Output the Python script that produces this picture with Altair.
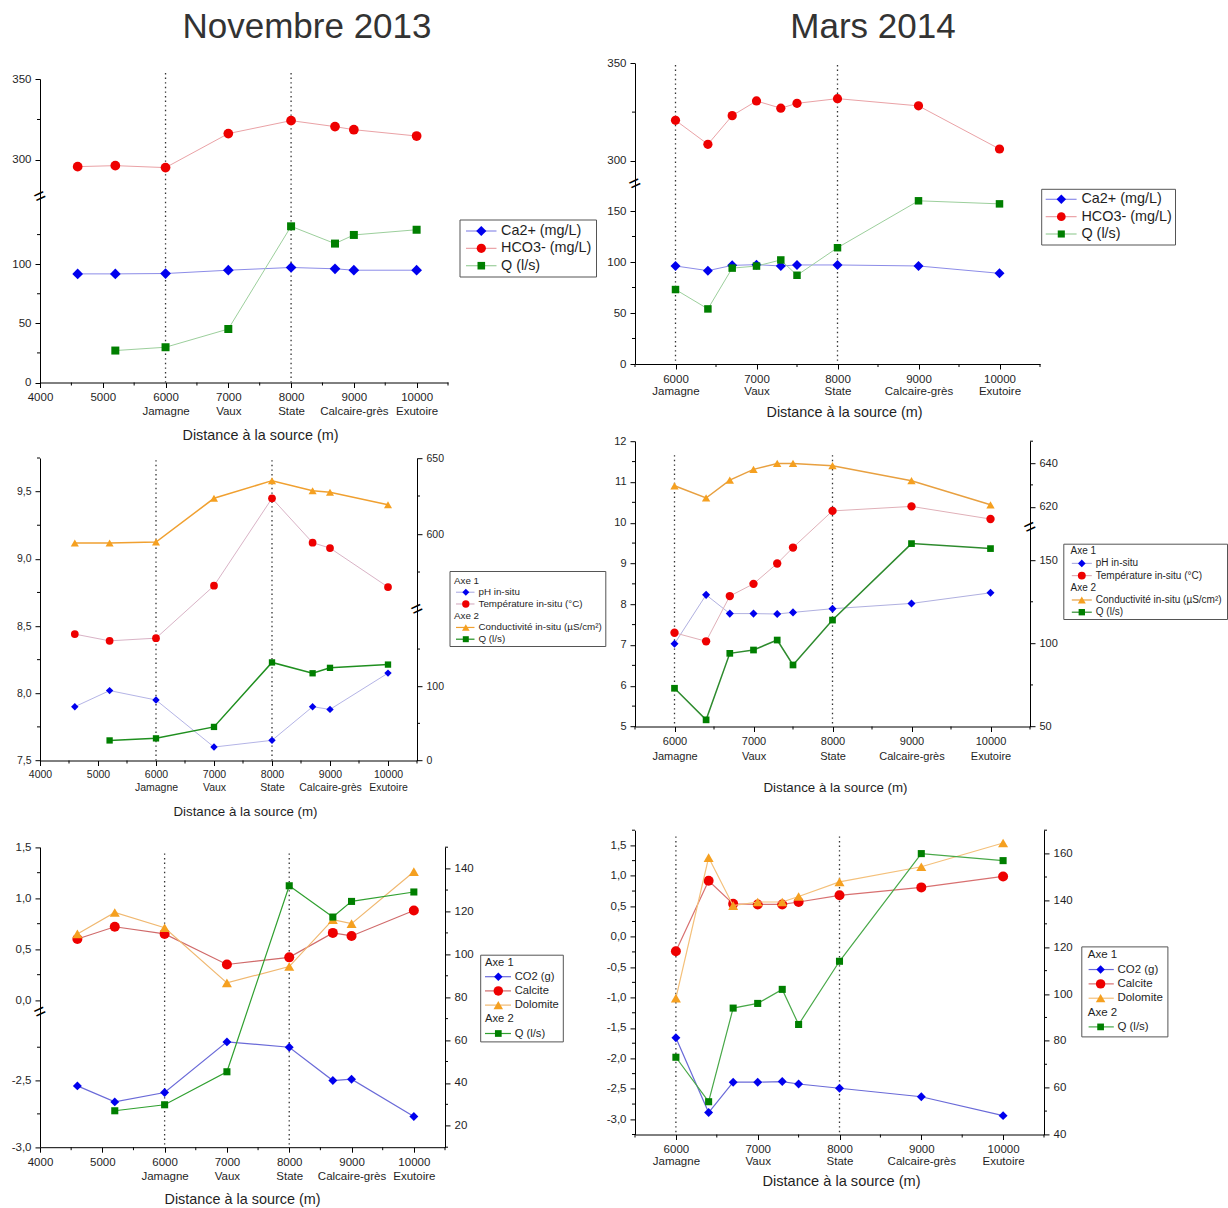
import altair as alt
import pandas as pd

FONT = "Liberation Sans"
INK = "#1f1f1f"
AXIS_TITLE = "Distance à la source (m)"

# Named stations along the stream (distance from the source, m)
STATION_X = [6000, 7000, 8000, 9000, 10000]
STATION_NAMES = ["Jamagne", "Vaux", "State", "Calcaire-grès", "Exutoire"]
# Dotted vertical markers
MARKER_X = [6000, 8000]

# ---- November 2013 campaign ----
NOV_X = [4600, 5200, 6000, 7000, 8000, 8700, 9000, 10000]
NOV_Q_X = [5200, 6000, 7000, 8000, 8700, 9000, 10000]
NOV_CA = [91.8, 91.8, 92.1, 94.9, 97.2, 96.1, 94.9, 94.9]
NOV_HCO3 = [295.9, 296.5, 295.3, 316.3, 324.3, 320.6, 318.7, 314.8]
NOV_Q = [27.0, 29.8, 45.2, 132.0, 117.4, 124.7, 129.1]
NOV_PH = [7.90, 8.02, 7.95, 7.60, 7.65, 7.90, 7.88, 8.15]
NOV_TEMP = [8.44, 8.39, 8.41, 8.80, 9.45, 9.12, 9.08, 8.79]
NOV_COND = [594.1, 594.1, 594.7, 623.5, 635.1, 628.5, 627.4, 619.3]
NOV_CO2 = [-2.54, -2.66, -2.59, -2.21, -2.25, -2.50, -2.49, -2.77]
NOV_CALCITE = [0.60, 0.72, 0.65, 0.35, 0.42, 0.66, 0.63, 0.88]
NOV_DOLOMITE = [0.65, 0.86, 0.71, 0.17, 0.33, 0.79, 0.75, 1.26]

# ---- March 2014 campaign ----
MAR_X = [6000, 6400, 6700, 7000, 7300, 7500, 8000, 9000, 10000]
MAR_CA = [96.1, 91.5, 96.7, 97.4, 96.1, 97.1, 97.1, 96.1, 88.9]
MAR_HCO3 = [320.8, 308.5, 323.2, 330.7, 327.0, 329.5, 331.9, 328.2, 306.1]
MAR_Q = [73.0, 54.0, 94.0, 96.0, 102.0, 87.0, 114.0, 160.0, 157.0]
MAR_PH = [7.03, 8.23, 7.77, 7.77, 7.76, 7.80, 7.89, 8.02, 8.28]
MAR_TEMP = [7.30, 7.09, 8.20, 8.50, 9.00, 9.39, 10.29, 10.40, 10.09]
MAR_COND = [629.6, 624.0, 632.2, 637.1, 639.8, 639.8, 638.8, 631.9, 620.9]
MAR_CO2 = [-1.66, -2.89, -2.39, -2.39, -2.38, -2.42, -2.49, -2.63, -2.94]
MAR_CALCITE = [-0.24, 0.92, 0.54, 0.53, 0.53, 0.57, 0.68, 0.81, 0.99]
MAR_DOLOMITE = [-1.01, 1.30, 0.51, 0.57, 0.57, 0.66, 0.90, 1.15, 1.54]

# Marker fills
BLUE, RED, GREEN, ORANGE = "#0000ee", "#ee0000", "#007f00", "#f5a020"

TICKS_WIDE = [4000, 5000, 6000, 7000, 8000, 9000, 10000]
MINOR_WIDE = [4500, 5500, 6500, 7500, 8500, 9500, 10500]
TICKS_NARROW = [6000, 7000, 8000, 9000, 10000]
MINOR_NARROW = [5500, 6500, 7500, 8500, 9500, 10500]


def station_expr():
    expr = "datum.label"
    for x, name in reversed(list(zip(STATION_X, STATION_NAMES))):
        expr = f"datum.value == {x} ? ['{x}', '{name}'] : ({expr})"
    return expr


STATION_EXPR = station_expr()
COMMA_EXPR = "replace(replace(format(datum.value, '.1f'), '.', ','), '\u2212', '-')"


def sd(name, x, y, side, shape, size, fill, line, lw=1.0):
    return dict(name=name, x=x, y=y, side=side, shape=shape, size=size,
                fill=fill, line=line, lw=lw)


PANELS = [
    dict(  # November 2013 - Ca2+, HCO3-, Q
        width=408, height=319.5, x_domain=[4000, 10500],
        x_ticks=TICKS_WIDE, x_minor=MINOR_WIDE,
        label_size=11.5, label_line=14, title_size=14.4, title_x=220, title_y=52.5,
        dotted_top=10,
        left=dict(domain=[0, 155, 279, 350], range=[319.5, 136.1, 131.0, 16],
                  ticks=[0, 50, 100, 300, 350], minor=[25, 75, 125, 325], brk=217),
        series=[
            sd("Ca2+ (mg/L)", NOV_X, NOV_CA, "left", "diamond", 115, BLUE, "#8c8ce8"),
            sd("HCO3- (mg/L)", NOV_X, NOV_HCO3, "left", "circle", 95, RED, "#eaa2a6"),
            sd("Q (l/s)", NOV_Q_X, NOV_Q, "left", "square", 64, GREEN, "#9ccf9c"),
        ],
        legend=dict(box=[420, 556.5, 157, 214], row0=168, row1=202.7, head=0,
                    sym=441.3, line=[426, 456.5], text=461, font=14.4,
                    entries=[("item", "Ca2+ (mg/L)"), ("item", "HCO3- (mg/L)"),
                             ("item", "Q (l/s)")]),
        heading=("Novembre 2013", 267), frame=True,
    ),
    dict(  # March 2014 - Ca2+, HCO3-, Q
        width=405, height=301, x_domain=[5500, 10500],
        x_ticks=TICKS_NARROW, x_minor=MINOR_NARROW,
        label_size=11.5, label_line=12.5, title_size=14.4, title_x=209, title_y=48.3,
        dotted_top=2,
        left=dict(domain=[0, 175, 289, 350], range=[301, 122.5, 119.4, 0.3],
                  ticks=[0, 50, 100, 150, 300, 350], minor=[25, 75, 125, 325], brk=232),
        series=[
            sd("Ca2+ (mg/L)", MAR_X, MAR_CA, "left", "diamond", 100, BLUE, "#8c8ce8"),
            sd("HCO3- (mg/L)", MAR_X, MAR_HCO3, "left", "circle", 85, RED, "#eaa2a6"),
            sd("Q (l/s)", MAR_X, MAR_Q, "left", "square", 56, GREEN, "#9ccf9c"),
        ],
        legend=dict(box=[406.7, 540.5, 126.3, 182], row0=136.3, row1=171, head=0,
                    sym=426.3, line=[410.7, 441.6], text=446.4, font=14.4,
                    entries=[("item", "Ca2+ (mg/L)"), ("item", "HCO3- (mg/L)"),
                             ("item", "Q (l/s)")]),
        heading=("Mars 2014", 238), frame=False,
    ),
    dict(  # November 2013 - pH, temperature | conductivity, Q
        width=377, height=319.3, x_domain=[4000, 10500],
        x_ticks=TICKS_WIDE, x_minor=MINOR_WIDE,
        label_size=10.5, label_line=13.4, title_size=13.3, title_x=205, title_y=50.7,
        dotted_top=19,
        left=dict(domain=[7.5, 9.75], range=[319.3, 16.8],
                  ticks=[7.5, 8.0, 8.5, 9.0, 9.5], minor=[7.75, 8.25, 8.75, 9.25, 9.75],
                  comma=True),
        right=dict(domain=[0, 200, 552, 650], range=[319.3, 170.7, 165.8, 16.8],
                   ticks=[0, 100, 600, 650], minor=[50, 150, 575, 625], brk=376),
        series=[
            sd("pH in-situ", NOV_X, NOV_PH, "left", "diamond", 55, BLUE, "#b4b4e6"),
            sd("Température in-situ (°C)", NOV_X, NOV_TEMP, "left", "circle", 60, RED, "#d9b3c6"),
            sd("Conductivité in-situ (µS/cm²)", NOV_X, NOV_COND, "right", "triangle-up", 65,
               ORANGE, "#f0a030", 1.5),
            sd("Q (l/s)", NOV_Q_X, NOV_Q, "right", "square", 40, GREEN, "#1f8f1f", 1.5),
        ],
        legend=dict(box=[410, 565.8, 130.3, 205.3], row0=139.3, row1=198, head=414,
                    sym=425.8, line=[416, 434.5], text=438.5, font=9.8,
                    entries=[("head", "Axe 1"), ("item", "pH in-situ"),
                             ("item", "Température in-situ (°C)"), ("head", "Axe 2"),
                             ("item", "Conductivité in-situ (µS/cm²)"), ("item", "Q (l/s)")]),
    ),
    dict(  # March 2014 - pH, temperature | conductivity, Q
        width=395, height=285.3, x_domain=[5500, 10500],
        x_ticks=TICKS_NARROW, x_minor=MINOR_NARROW,
        label_size=11, label_line=15, title_size=13.3, title_x=200, title_y=60.7,
        dotted_top=14,
        left=dict(domain=[5, 12], range=[285.3, 0],
                  ticks=[5, 6, 7, 8, 9, 10, 11, 12],
                  minor=[5.5, 6.5, 7.5, 8.5, 9.5, 10.5, 11.5]),
        right=dict(domain=[50, 168, 612, 650], range=[285.3, 89.1, 83.0, 0],
                   ticks=[50, 100, 150, 620, 640], minor=[75, 125, 630, 650], brk=390),
        series=[
            sd("pH in-situ", MAR_X, MAR_PH, "left", "diamond", 65, BLUE, "#b0b0e0"),
            sd("Température in-situ (°C)", MAR_X, MAR_TEMP, "left", "circle", 70, RED, "#e0b0b8"),
            sd("Conductivité in-situ (µS/cm²)", MAR_X, MAR_COND, "right", "triangle-up", 70,
               ORANGE, "#e8a040", 1.5),
            sd("Q (l/s)", MAR_X, MAR_Q, "right", "square", 45, GREEN, "#2e8b2e", 1.5),
        ],
        legend=dict(box=[428.8, 592.5, 103, 178.3], row0=110, row1=171, head=435.6,
                    sym=446.8, line=[436.8, 456.8], text=460.8, font=10,
                    entries=[("head", "Axe 1"), ("item", "pH in-situ"),
                             ("item", "Température in-situ (°C)"), ("head", "Axe 2"),
                             ("item", "Conductivité in-situ (µS/cm²)"), ("item", "Q (l/s)")]),
    ),
    dict(  # November 2013 - saturation indices | Q
        width=405, height=327.8, x_domain=[4000, 10500],
        x_ticks=TICKS_WIDE, x_minor=MINOR_WIDE,
        label_size=11.5, label_line=14.5, title_size=14.4, title_x=202, title_y=52.3,
        dotted_top=34,
        left=dict(domain=[-3.0, -2.0, -0.1, 1.5], range=[327.8, 194.5, 191.0, 27.8],
                  ticks=[-3.0, -2.5, 0.0, 0.5, 1.0, 1.5],
                  minor=[-2.75, -2.25, 0.25, 0.75, 1.25], comma=True, brk=-1.05),
        right=dict(domain=[10, 150], range=[327.8, 27.8],
                   ticks=[20, 40, 60, 80, 100, 120, 140],
                   minor=[10, 30, 50, 70, 90, 110, 130, 150]),
        series=[
            sd("CO2 (g)", NOV_X, NOV_CO2, "left", "diamond", 80, BLUE, "#6a6ad8", 1.2),
            sd("Calcite", NOV_X, NOV_CALCITE, "left", "circle", 100, RED, "#d06a6a", 1.2),
            sd("Dolomite", NOV_X, NOV_DOLOMITE, "left", "triangle-up", 100, ORANGE, "#f0b870", 1.2),
            sd("Q (l/s)", NOV_Q_X, NOV_Q, "right", "square", 50, GREEN, "#30a030", 1.2),
        ],
        legend=dict(box=[440.7, 523.3, 135.8, 222.5], row0=143.1, row1=214.1, head=445,
                    sym=458.3, line=[445, 471], text=474.7, font=11.2,
                    entries=[("head", "Axe 1"), ("item", "CO2 (g)"), ("item", "Calcite"),
                             ("item", "Dolomite"), ("head", "Axe 2"), ("item", "Q (l/s)")]),
    ),
    dict(  # March 2014 - saturation indices | Q
        width=409, height=315.1, x_domain=[5500, 10500],
        x_ticks=TICKS_NARROW, x_minor=MINOR_NARROW,
        label_size=11.5, label_line=12, title_size=14.6, title_x=206, title_y=46.7,
        dotted_top=17,
        left=dict(domain=[-3.25, 1.75], range=[315.1, 10.8],
                  ticks=[-3.0, -2.5, -2.0, -1.5, -1.0, -0.5, 0.0, 0.5, 1.0, 1.5],
                  minor=[-3.25, -2.75, -2.25, -1.75, -1.25, -0.75, -0.25, 0.25, 0.75, 1.25, 1.75],
                  comma=True),
        right=dict(domain=[40, 170], range=[315.1, 10.8],
                   ticks=[40, 60, 80, 100, 120, 140, 160],
                   minor=[50, 70, 90, 110, 130, 150, 170]),
        series=[
            sd("CO2 (g)", MAR_X, MAR_CO2, "left", "diamond", 80, BLUE, "#6a6ad8", 1.2),
            sd("Calcite", MAR_X, MAR_CALCITE, "left", "circle", 100, RED, "#d87070", 1.2),
            sd("Dolomite", MAR_X, MAR_DOLOMITE, "left", "triangle-up", 100, ORANGE, "#f4c07a", 1.2),
            sd("Q (l/s)", MAR_X, MAR_Q, "right", "square", 50, GREEN, "#48a848", 1.2),
        ],
        legend=dict(box=[446.8, 532.9, 127.5, 217.5], row0=135.8, row1=207.5, head=452.8,
                    sym=465.6, line=[453.6, 478.8], text=482.4, font=11.5,
                    entries=[("head", "Axe 1"), ("item", "CO2 (g)"), ("item", "Calcite"),
                             ("item", "Dolomite"), ("head", "Axe 2"), ("item", "Q (l/s)")]),
    ),
]


def lin(domain, rng):
    return alt.Scale(domain=domain, range=rng, nice=False, zero=False)


def x_axis(p):
    return alt.Axis(values=p["x_ticks"], tickCount=len(p["x_ticks"]) + 10, format="d",
                    labelExpr=STATION_EXPR, tickSize=5, labelPadding=4,
                    labelFontSize=p["label_size"], labelLineHeight=p["label_line"],
                    labelOverlap=False, labelFlush=False, grid=False, title=AXIS_TITLE,
                    titleFontSize=p["title_size"], titleFontWeight="normal",
                    titleX=p["title_x"], titleY=p["title_y"], titleBaseline="middle",
                    titleAlign="center")


def y_axis(side, spec, size):
    # tickCount above the number of explicit values keeps every value labelled
    kw = dict(orient=side, values=spec["ticks"], tickCount=len(spec["ticks"]) + 10,
              tickSize=5, labelPadding=4, labelFontSize=size, labelOverlap=False,
              labelFlush=False, title=None, grid=False)
    if spec.get("comma"):
        kw["labelExpr"] = COMMA_EXPR
    else:
        kw["format"] = "d"
    return alt.Axis(**kw)


def one_row():
    return pd.DataFrame({"k": [0]})


def axis_group(p, side, xs):
    """Series sharing one vertical scale, plus its decorations.

    The first series line carries the axis definitions; every other layer
    leaves the axis unspecified so that it merges into that one.
    """
    w, h = p["width"], p["height"]
    spec = p[side]
    ys = lin(spec["domain"], spec["range"])
    back, front = [], []

    if side == "left":
        if p.get("frame"):
            # invisible sheet fixing the outer extent of the whole figure
            back.append(alt.Chart(one_row()).mark_rect(opacity=0).encode(
                x=alt.value(-40), x2=alt.value(1188), y=alt.value(-63), y2=alt.value(1145)))
        if p.get("heading"):
            text, hx = p["heading"]
            back.append(alt.Chart(pd.DataFrame({"t": [text]})).mark_text(
                fontSize=35, color="#333333", align="center", baseline="alphabetic"
            ).encode(x=alt.value(hx), y=alt.value(-25.5), text="t:N"))
        back.append(alt.Chart(pd.DataFrame({"m": MARKER_X})).mark_rule(
            color="#333333", strokeWidth=1.3, strokeDash=[1.4, 3.2]
        ).encode(x=alt.X("m:Q", scale=xs),
                 y=alt.value(p["dotted_top"]), y2=alt.value(h)))
        front.append(alt.Chart(pd.DataFrame({"m": p["x_minor"]})).mark_rule(
            color="black", strokeWidth=1
        ).encode(x=alt.X("m:Q", scale=xs), y=alt.value(h), y2=alt.value(h + 3)))

    x0, x1 = (-3, 0) if side == "left" else (w, w + 3)
    front.append(alt.Chart(pd.DataFrame({"m": spec["minor"]})).mark_rule(
        color="black", strokeWidth=1
    ).encode(y=alt.Y("m:Q", scale=ys), x=alt.value(x0), x2=alt.value(x1)))

    if "brk" in spec:
        front.append(alt.Chart(pd.DataFrame({"b": [spec["brk"]]})).mark_text(
            text="=", angle=335, fontSize=20, color="black", align="center", baseline="middle"
        ).encode(y=alt.Y("b:Q", scale=ys), x=alt.value(0 if side == "left" else w)))

    series_layers = []
    first = True
    for s in p["series"]:
        if s["side"] != side:
            continue
        df = pd.DataFrame({"x": s["x"], "v": s["y"]})
        base = alt.Chart(df)
        if first:
            yenc = alt.Y("v:Q", scale=ys, axis=y_axis(side, spec, p["label_size"]))
            if side == "left":
                xenc = alt.X("x:Q", scale=xs, axis=x_axis(p))
            else:
                xenc = alt.X("x:Q", scale=xs)
        else:
            yenc = alt.Y("v:Q", scale=ys)
            xenc = alt.X("x:Q", scale=xs)
        series_layers.append(base.mark_line(color=s["line"], strokeWidth=s["lw"]).encode(
            x=xenc, y=yenc))
        series_layers.append(base.mark_point(filled=True, opacity=1, shape=s["shape"],
                                             size=s["size"], color=s["fill"]).encode(
            x=alt.X("x:Q", scale=xs), y=alt.Y("v:Q", scale=ys)))
        first = False
    return alt.layer(*(back + series_layers + front))


def legend_group(p):
    L = p["legend"]
    by_name = {s["name"]: s for s in p["series"]}
    rows = []
    for i, (kind, label) in enumerate(L["entries"]):
        if kind == "head":
            rows.append(dict(i=i, kind=kind, label=label, fill="black", line="black",
                             shape="circle", size=0))
        else:
            s = by_name[label]
            rows.append(dict(i=i, kind=kind, label=label, fill=s["fill"], line=s["line"],
                             shape=s["shape"], size=s["size"] * 0.9))
    df = pd.DataFrame(rows)
    ly = lin([0, len(rows) - 1], [L["row0"], L["row1"]])
    y = alt.Y("i:Q", scale=ly, axis=None)
    bx = L["box"]
    layers = [alt.Chart(one_row()).mark_rect(fill="white", stroke="#555555", strokeWidth=1).encode(
        x=alt.value(bx[0]), x2=alt.value(bx[1]), y=alt.value(bx[2]), y2=alt.value(bx[3]))]
    items = alt.Chart(df).transform_filter("datum.kind == 'item'")
    layers.append(items.mark_rule(strokeWidth=1.2).encode(
        x=alt.value(L["line"][0]), x2=alt.value(L["line"][1]), y=y,
        color=alt.Color("line:N", scale=None)))
    layers.append(items.mark_point(filled=True, opacity=1).encode(
        x=alt.value(L["sym"]), y=y, fill=alt.Fill("fill:N", scale=None),
        shape=alt.Shape("shape:N", scale=None), size=alt.Size("size:Q", scale=None)))
    layers.append(items.mark_text(align="left", baseline="middle", fontSize=L["font"],
                                  color=INK).encode(x=alt.value(L["text"]), y=y, text="label:N"))
    if any(k == "head" for k, _ in L["entries"]):
        heads = alt.Chart(df).transform_filter("datum.kind == 'head'")
        layers.append(heads.mark_text(align="left", baseline="middle", fontSize=L["font"],
                                      color=INK).encode(x=alt.value(L["head"]), y=y,
                                                        text="label:N"))
    return alt.layer(*layers)


def build_panel(p):
    xs = lin(p["x_domain"], [0, p["width"]])
    groups = [axis_group(p, "left", xs)]
    if p.get("right"):
        groups.append(axis_group(p, "right", xs))
    groups.append(legend_group(p))
    return alt.layer(*groups).resolve_scale(y="independent").properties(
        width=p["width"], height=p["height"])


chart = alt.concat(
    *[build_panel(p) for p in PANELS],
    columns=2, spacing={"row": 58.2, "column": 187}, bounds="flush", align="each",
).properties(padding=0).configure(
    font=FONT, background="white"
).configure_view(
    strokeWidth=0
).configure_axis(
    domainColor="black", tickColor="black", domainWidth=1, tickWidth=1,
    labelColor=INK, titleColor=INK, labelFont=FONT, titleFont=FONT, grid=False,
    labelOverlap=False,
)

chart.save("out.html", embed_options={"renderer": "svg", "actions": False})
